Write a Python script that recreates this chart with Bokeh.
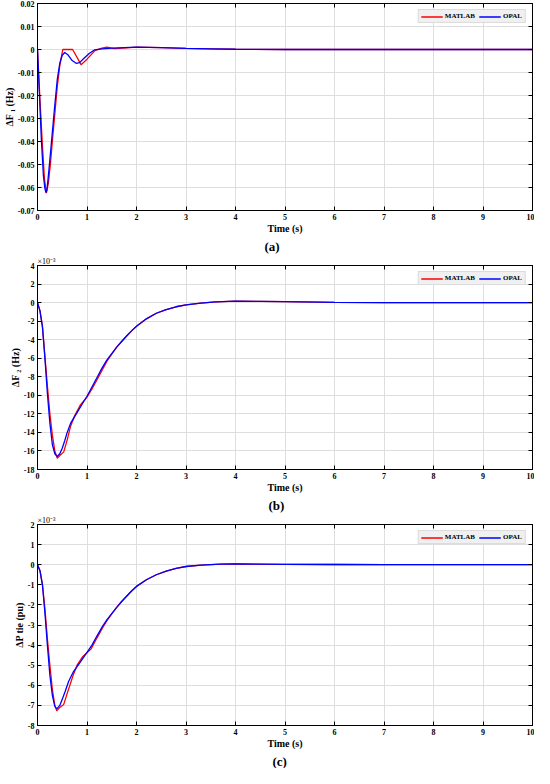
from bokeh.plotting import figure
from bokeh.layouts import column
from bokeh.models import FixedTicker, Title, Legend, LegendItem, Range1d, LinearAxis
from bokeh.embed import file_html
from bokeh.resources import INLINE

# ---------------- data ----------------
x_ticks = [0, 1, 2, 3, 4, 5, 6, 7, 8, 9, 10]
x_tick_labels = ["0", "1", "2", "3", "4", "5", "6", "7", "8", "9", "10"]
x_axis_label = "Time (s)"
series_names = ["MATLAB", "OPAL"]

# panel (a): delta F1 (Hz)
a_y_ticks = [-0.07, -0.06, -0.05, -0.04, -0.03, -0.02, -0.01, 0.0, 0.01, 0.02]
a_y_tick_labels = ["-0.07", "-0.06", "-0.05", "-0.04", "-0.03", "-0.02", "-0.01", "0", "0.01", "0.02"]
a_matlab_t = [0, 0.05, 0.10, 0.14, 0.18, 0.22, 0.26, 0.30, 0.35, 0.40, 0.45, 0.51, 0.71, 0.88,
              1.00, 1.16, 1.30, 1.40, 1.55, 1.80, 2.00, 2.50, 3.00, 3.50, 4.00, 5.00, 6.00,
              7.00, 8.00, 9.00, 10.00]
a_matlab_v = [0, -0.022, -0.042, -0.056, -0.0625, -0.058, -0.050, -0.040, -0.028, -0.016,
              -0.007, 0.0, 0.0, -0.0066, -0.0042, -0.0005, 0.0006, 0.0010, 0.0004, 0.0007,
              0.0010, 0.0008, 0.0005, 0.0003, 0.0001, 0.0, 0.0, 0.0, 0.0, 0.0, 0.0]
a_opal_t = [0, 0.04, 0.08, 0.12, 0.15, 0.17, 0.19, 0.21, 0.25, 0.30, 0.35, 0.40, 0.45, 0.50,
            0.55, 0.62, 0.70, 0.78, 0.85, 0.95, 1.05, 1.15, 1.30, 1.50, 2.00, 2.50, 3.00,
            3.50, 4.00, 5.00, 6.00, 7.00, 8.00, 9.00, 10.00]
a_opal_v = [0, -0.020, -0.040, -0.055, -0.0605, -0.0622, -0.061, -0.057, -0.048, -0.036,
            -0.024, -0.013, -0.006, -0.0025, -0.0013, -0.0024, -0.0048, -0.0060, -0.0057,
            -0.0036, -0.0016, -0.0002, 0.0003, 0.0006, 0.0010, 0.0008, 0.0005, 0.0003,
            0.0001, 0.0, 0.0, 0.0, 0.0, 0.0, 0.0]

# panel (b): delta F2 (x1e-3 Hz)
b_y_ticks = [-18, -16, -14, -12, -10, -8, -6, -4, -2, 0, 2, 4]
b_y_tick_labels = ["-18", "-16", "-14", "-12", "-10", "-8", "-6", "-4", "-2", "0", "2", "4"]
b_matlab_t = [0, 0.05, 0.10, 0.15, 0.20, 0.25, 0.30, 0.35, 0.40, 0.45, 0.53, 0.60, 0.67,
              0.75, 0.87, 1.00, 1.10, 1.20, 1.30, 1.40, 1.50, 1.60, 1.70, 1.80, 1.90, 2.00,
              2.20, 2.40, 2.60, 2.80, 3.00, 3.30, 3.60, 4.00, 4.50, 5.00, 6.00, 7.00, 10.00]
b_matlab_v = [0, -0.9, -2.6, -5.8, -9.0, -12.0, -14.3, -16.0, -16.8, -16.5, -16.1, -14.8,
              -13.3, -12.2, -11.0, -10.2, -9.3, -8.35, -7.35, -6.35, -5.55, -4.8, -4.2,
              -3.6, -3.05, -2.55, -1.75, -1.15, -0.75, -0.45, -0.25, -0.05, 0.08, 0.15,
              0.13, 0.10, 0.03, 0.0, 0.0]
b_opal_t = [0, 0.05, 0.10, 0.15, 0.20, 0.25, 0.30, 0.35, 0.40, 0.45, 0.50, 0.55, 0.60, 0.67,
            0.75, 0.85, 1.00, 1.10, 1.20, 1.30, 1.40, 1.50, 1.60, 1.70, 1.80, 1.90, 2.00,
            2.20, 2.40, 2.60, 2.80, 3.00, 3.30, 3.60, 4.00, 4.50, 5.00, 6.00, 7.00, 10.00]
b_opal_v = [0, -0.9, -2.6, -6.0, -9.8, -13.0, -15.3, -16.3, -16.6, -16.3, -15.7, -14.9,
            -14.0, -13.0, -12.3, -11.4, -10.1, -9.1, -8.1, -7.1, -6.2, -5.5, -4.8, -4.2,
            -3.6, -3.05, -2.55, -1.75, -1.15, -0.75, -0.45, -0.25, -0.05, 0.08, 0.15,
            0.13, 0.10, 0.03, 0.0, 0.0]

# panel (c): delta P tie (x1e-3 pu)
c_y_ticks = [-8, -7, -6, -5, -4, -3, -2, -1, 0, 1, 2]
c_y_tick_labels = ["-8", "-7", "-6", "-5", "-4", "-3", "-2", "-1", "0", "1", "2"]
c_matlab_t = [0, 0.05, 0.10, 0.15, 0.20, 0.25, 0.30, 0.35, 0.39, 0.45, 0.53, 0.60, 0.72,
              0.80, 0.92, 1.08, 1.20, 1.31, 1.40, 1.50, 1.60, 1.70, 1.80, 1.90, 2.00, 2.20,
              2.40, 2.60, 2.80, 3.00, 3.30, 3.70, 4.00, 5.00, 6.00, 7.00, 10.00]
c_matlab_v = [0, -0.3, -1.0, -2.2, -3.7, -5.0, -6.2, -7.0, -7.27, -7.1, -6.95, -6.4, -5.5,
              -5.0, -4.55, -4.2, -3.65, -3.16, -2.8, -2.45, -2.12, -1.83, -1.57, -1.31,
              -1.08, -0.75, -0.5, -0.32, -0.18, -0.09, -0.02, 0.03, 0.04, 0.02, 0.01, 0.0, 0.0]
c_opal_t = [0, 0.05, 0.10, 0.15, 0.20, 0.25, 0.30, 0.35, 0.39, 0.45, 0.50, 0.56, 0.63, 0.72,
            0.85, 0.99, 1.10, 1.20, 1.31, 1.40, 1.50, 1.60, 1.70, 1.80, 1.90, 2.00, 2.20,
            2.40, 2.60, 2.80, 3.00, 3.30, 3.70, 4.00, 5.00, 6.00, 7.00, 10.00]
c_opal_v = [0, -0.3, -1.0, -2.4, -4.0, -5.5, -6.5, -7.05, -7.17, -7.0, -6.7, -6.3, -5.8,
            -5.35, -4.9, -4.4, -4.0, -3.55, -3.08, -2.75, -2.43, -2.12, -1.83, -1.57, -1.31,
            -1.08, -0.75, -0.5, -0.32, -0.18, -0.09, -0.02, 0.03, 0.04, 0.02, 0.01, 0.0, 0.0]

FONT = "Liberation Serif"
RED = "#ff0000"
BLUE = "#0000ff"


def style_axis(ax, ticks, labels):
    ax.ticker = FixedTicker(ticks=ticks)
    ax.major_label_overrides = {t: l for t, l in zip(ticks, labels)}
    ax.minor_tick_line_color = None
    ax.major_tick_in = 4
    ax.major_tick_out = 0
    ax.major_tick_line_color = "black"
    ax.axis_line_color = "black"
    ax.axis_line_width = 1
    ax.major_label_text_font = FONT
    ax.major_label_text_font_style = "bold"
    ax.major_label_text_color = "black"
    ax.major_label_text_font_size = "8px"
    ax.major_label_standoff = 3
    ax.axis_label_text_font = FONT
    ax.axis_label_text_font_style = "bold"
    ax.axis_label_text_font_size = "10px"
    ax.axis_label_text_color = "black"
    ax.axis_label_standoff = 0


def tick_only_axis(ticks):
    ax = LinearAxis(ticker=FixedTicker(ticks=ticks))
    ax.minor_tick_line_color = None
    ax.major_tick_in = 4
    ax.major_tick_out = 0
    ax.major_tick_line_color = "black"
    ax.axis_line_color = "black"
    ax.major_label_text_color = None
    ax.major_label_text_font_size = "1px"
    ax.major_label_standoff = 0
    return ax


def make_panel(height, bl, bt, bb, y_lo, y_hi, y_ticks, y_labels, y_label,
               mt, mv, ot, ov, caption, cap_offset, exponent=None):
    p = figure(width=534, height=height, x_range=Range1d(0, 10), y_range=Range1d(y_lo, y_hi),
               output_backend="svg", toolbar_location=None,
               min_border_left=bl, min_border_right=2, min_border_top=bt, min_border_bottom=bb)
    p.background_fill_color = "white"
    p.border_fill_color = "white"
    p.outline_line_color = "black"
    p.outline_line_width = 1

    style_axis(p.xaxis[0], x_ticks, x_tick_labels)
    style_axis(p.yaxis[0], y_ticks, y_labels)
    p.xaxis.axis_label = x_axis_label
    p.yaxis.axis_label = y_label
    p.add_layout(tick_only_axis(x_ticks), "above")
    p.add_layout(tick_only_axis(y_ticks), "right")

    p.xgrid.ticker = FixedTicker(ticks=x_ticks)
    p.ygrid.ticker = FixedTicker(ticks=y_ticks)
    p.grid.grid_line_color = "#dedede"
    p.grid.grid_line_width = 1

    r_m = p.line(mt, mv, line_color=RED, line_width=1.3)
    r_o = p.line(ot, ov, line_color=BLUE, line_width=1.3)

    legend = Legend(items=[LegendItem(label=series_names[0], renderers=[r_m]),
                           LegendItem(label=series_names[1], renderers=[r_o])],
                    orientation="horizontal", location="top_right",
                    label_text_font=FONT, label_text_font_style="bold",
                    label_text_font_size="7px", label_text_color="black",
                    glyph_width=22, glyph_height=7, label_height=7, label_standoff=2,
                    spacing=4, padding=2, margin=6,
                    background_fill_color="#f0f0f0", background_fill_alpha=1.0,
                    border_line_color="#c8c8c8", border_line_width=1)
    p.add_layout(legend)

    if exponent is not None:
        p.add_layout(Title(text=exponent, align="left", text_font=FONT,
                           text_font_size="8px", text_font_style="normal",
                           text_color="black", standoff=0, offset=0), "above")

    p.add_layout(Title(text=caption, align="left", offset=cap_offset, text_font=FONT,
                       text_font_size="13px", text_font_style="bold",
                       text_color="black", standoff=0), "below")
    return p


pa = make_panel(254, 33, 3, 44, -0.07, 0.02, a_y_ticks, a_y_tick_labels, "\u0394F \u2081 (Hz)",
                a_matlab_t, a_matlab_v, a_opal_t, a_opal_v, "(a)", 227)
pb = make_panel(259, 28, 10, 44, -18, 4, b_y_ticks, b_y_tick_labels, "\u0394F \u2082 (Hz)",
                b_matlab_t, b_matlab_v, b_opal_t, b_opal_v, "(b)", 231,
                exponent="\u00d710\u207b\u00b3")
pc = make_panel(255, 25, 10, 40, -8, 2, c_y_ticks, c_y_tick_labels, "\u0394P tie (pu)",
                c_matlab_t, c_matlab_v, c_opal_t, c_opal_v, "(c)", 235,
                exponent="\u00d710\u207b\u00b3")

layout = column(pa, pb, pc, spacing=0)
open("out.html", "w").write(file_html(layout, INLINE))
